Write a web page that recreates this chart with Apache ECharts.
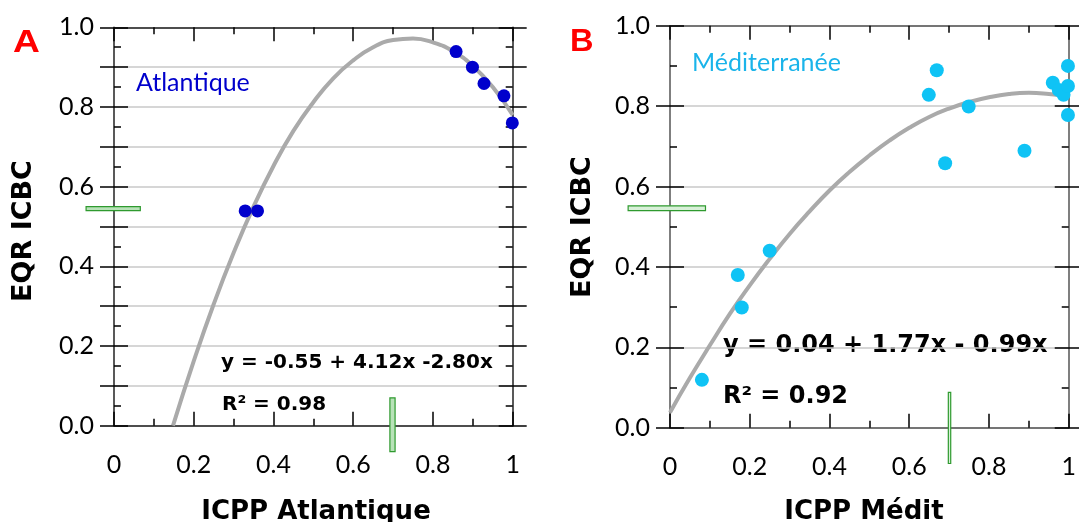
<!DOCTYPE html>
<html>
<head>
<meta charset="utf-8">
<script src="https://cdn.jsdelivr.net/npm/echarts@6/dist/echarts.min.js"></script>
<style>
html,body{margin:0;padding:0;background:#fff;}
#c{width:1079px;height:522px;}
</style>
</head>
<body>
<div id="c"></div>
<script>
// ---- data ----
var atlPoints = [[0.329,0.539],[0.360,0.539],[0.858,0.939],[0.899,0.900],[0.928,0.859],[0.978,0.828],[0.999,0.760]];
var atlCurve = [[0.148,0.0],[0.2,0.162],[0.25,0.305],[0.3,0.434],[0.35,0.55],[0.4,0.652],[0.45,0.74],[0.5,0.812],[0.55,0.872],[0.6,0.917],[0.65,0.95],[0.7,0.968],[0.75,0.972],[0.8,0.962],[0.85,0.94],[0.9,0.903],[0.95,0.85],[1.0,0.78]];
var medPoints = [[0.080,0.119],[0.170,0.380],[0.180,0.299],[0.250,0.440],[0.649,0.828],[0.669,0.889],[0.690,0.658],[0.749,0.799],[0.889,0.689],[0.960,0.858],[0.975,0.840],[0.987,0.828],[0.998,0.850],[0.998,0.900],[0.998,0.778]];
var medCurve = [[0.0,0.038],[0.05,0.124],[0.1,0.205],[0.15,0.283],[0.2,0.354],[0.25,0.42],[0.3,0.482],[0.35,0.538],[0.4,0.59],[0.45,0.636],[0.5,0.677],[0.55,0.714],[0.6,0.746],[0.65,0.773],[0.7,0.794],[0.75,0.81],[0.8,0.822],[0.85,0.83],[0.9,0.833],[0.95,0.83],[1.0,0.824]];
// reference markers: [xStart, xEnd, yStart, yEnd]
var atlRefs = [[-0.07,0.066,0.54,0.55],[0.692,0.705,-0.065,0.07]];
var medRefs = [[-0.105,0.089,0.540,0.552],[0.698,0.704,-0.089,0.088]];
var xTicks = [0,0.2,0.4,0.6,0.8,1];
var yTicks = [0.0,0.2,0.4,0.6,0.8,1.0];

var FONT = 'Lato';
var BOLD = 'DejaVu Sans';
var chart = echarts.init(document.getElementById('c'));

function xAx(grid, pos, lineColor, labels){
  return {
    type:'value', gridIndex:grid, position:pos, min:0, max:1, interval:0.2,
    axisLine:{show:true, onZero:false, lineStyle:{color:lineColor, width:1.5}},
    axisTick:{show:true, inside:true, length:14, lineStyle:{color:'#000', width:1.5}},
    minorTick:{show:true, splitNumber:2, length:7, lineStyle:{color:'#000', width:1.5}},
    axisLabel:{show:labels, margin:27, fontFamily:FONT, fontSize:25, color:'#000',
      formatter:function(v){ return xTicks.indexOf(Math.round(v*10)/10) >= 0 ? String(Math.round(v*10)/10) : ''; }},
    splitLine:{show:false}
  };
}
function yAx(grid, pos, interval, inside, mainAxis, lineColor, labels, split){
  return {
    type:'value', gridIndex:grid, position:pos, min:0, max:1, interval:interval,
    axisLine:{show:mainAxis, onZero:false, lineStyle:{color:lineColor, width:1.5}},
    axisTick:{show:true, inside:inside, length:14, lineStyle:{color:'#000', width:1.5}},
    minorTick:{show:mainAxis, splitNumber:2, length:7, lineStyle:{color:'#000', width:1.5}},
    axisLabel:{show:labels, margin:20, fontFamily:FONT, fontSize:25, color:'#000',
      formatter:function(v){ var r = Math.round(v*10)/10; return yTicks.indexOf(r) >= 0 ? r.toFixed(1) : ''; }},
    splitLine:{show:split, lineStyle:{color:'#c8c8c8', width:1.5}}
  };
}
function refSeries(xi, yi, data, fill, stroke){
  return {
    type:'custom', xAxisIndex:xi, yAxisIndex:yi, clip:false, z:5,
    encode:{x:[0,1], y:[2,3]},
    data:data,
    renderItem:function(params, api){
      var p1 = api.coord([api.value(0), api.value(3)]);
      var p2 = api.coord([api.value(1), api.value(2)]);
      return {type:'rect', shape:{x:p1[0], y:p1[1], width:p2[0]-p1[0], height:p2[1]-p1[1]},
        style:{fill:fill, stroke:stroke, lineWidth:1.2}};
    }
  };
}
function txt(x, y, s, fam, size, color, extra){
  var o = {type:'text', x:x, y:y, style:{text:s, fontFamily:fam, fontWeight:'bold', fontSize:size, fill:color, textAlign:'left', textVerticalAlign:'middle'}};
  if (extra) for (var k in extra) o[k] = extra[k];
  return o;
}

var option = {
  animation:false,
  backgroundColor:'#fff',
  grid:[
    {left:114, top:27.3, width:398.7, height:398.4},
    {left:670, top:25.7, width:402, height:402}
  ],
  xAxis:[
    xAx(0,'bottom','#222',true),
    xAx(0,'top','#222',false),
    xAx(1,'bottom','#555',true),
    xAx(1,'top','#555',false)
  ],
  yAxis:[
    yAx(0,'left',0.1,true,true,'#222',true,true),
    yAx(0,'left',0.1,false,false,'#222',false,false),
    yAx(0,'right',0.1,true,true,'#222',false,false),
    yAx(0,'right',0.1,false,false,'#222',false,false),
    yAx(1,'left',0.2,true,true,'#555',true,true),
    yAx(1,'left',0.2,false,false,'#555',false,false),
    yAx(1,'right',0.2,true,true,'#555',false,false),
    yAx(1,'right',0.2,false,false,'#555',false,false)
  ],
  series:[
    {type:'line', xAxisIndex:0, yAxisIndex:0, data:atlCurve, smooth:true, showSymbol:false,
      lineStyle:{color:'#aaaaaa', width:4}, z:3},
    {type:'scatter', xAxisIndex:0, yAxisIndex:0, data:atlPoints, symbolSize:13, clip:false,
      itemStyle:{color:'#0000cc', opacity:1}, z:4},
    refSeries(0,0,atlRefs,'#b8e2b8','#2f9a2f'),
    {type:'line', xAxisIndex:2, yAxisIndex:4, data:medCurve, smooth:true, showSymbol:false,
      lineStyle:{color:'#aaaaaa', width:4}, z:3},
    {type:'scatter', xAxisIndex:2, yAxisIndex:4, data:medPoints, symbolSize:14, clip:false,
      itemStyle:{color:'#0fc3f5', opacity:1}, z:4},
    refSeries(2,4,medRefs,'#d8f0d8','#2f9a2f')
  ],
  graphic:[
    txt(13, 43, 'A', 'Liberation Sans', 31, '#ff0000', {scaleX:1.2}),
    txt(570, 42, 'B', 'Liberation Sans', 31, '#ff0000', {scaleX:1.05}),
    {type:'text', left:136, top:70, style:{text:'Atlantique', fontFamily:FONT, fontSize:25, fill:'#0000cc'}},
    {type:'text', left:692, top:50, style:{text:'Méditerranée', fontFamily:FONT, fontSize:25, fill:'#1ab4ea'}},
    txt(221, 363, 'y = -0.55 + 4.12x -2.80x', BOLD, 20, '#000'),
    txt(222, 405, 'R² = 0.98', BOLD, 20, '#000'),
    txt(723, 346, 'y = 0.04 + 1.77x - 0.99x', BOLD, 24, '#000'),
    txt(723, 397, 'R² = 0.92', BOLD, 24, '#000'),
    {type:'text', x:24, y:231, rotation:Math.PI/2, style:{text:'EQR ICBC', fontFamily:BOLD, fontWeight:'bold', fontSize:27, fill:'#000', textAlign:'center', textVerticalAlign:'middle'}},
    {type:'text', x:583, y:227, rotation:Math.PI/2, style:{text:'EQR ICBC', fontFamily:BOLD, fontWeight:'bold', fontSize:27, fill:'#000', textAlign:'center', textVerticalAlign:'middle'}},
    {type:'text', x:316, y:512, style:{text:'ICPP Atlantique', fontFamily:BOLD, fontWeight:'bold', fontSize:26, fill:'#000', textAlign:'center', textVerticalAlign:'middle'}},
    {type:'text', x:864, y:512, style:{text:'ICPP Médit', fontFamily:BOLD, fontWeight:'bold', fontSize:26, fill:'#000', textAlign:'center', textVerticalAlign:'middle'}}
  ]
};
chart.setOption(option);
</script>
</body>
</html>
